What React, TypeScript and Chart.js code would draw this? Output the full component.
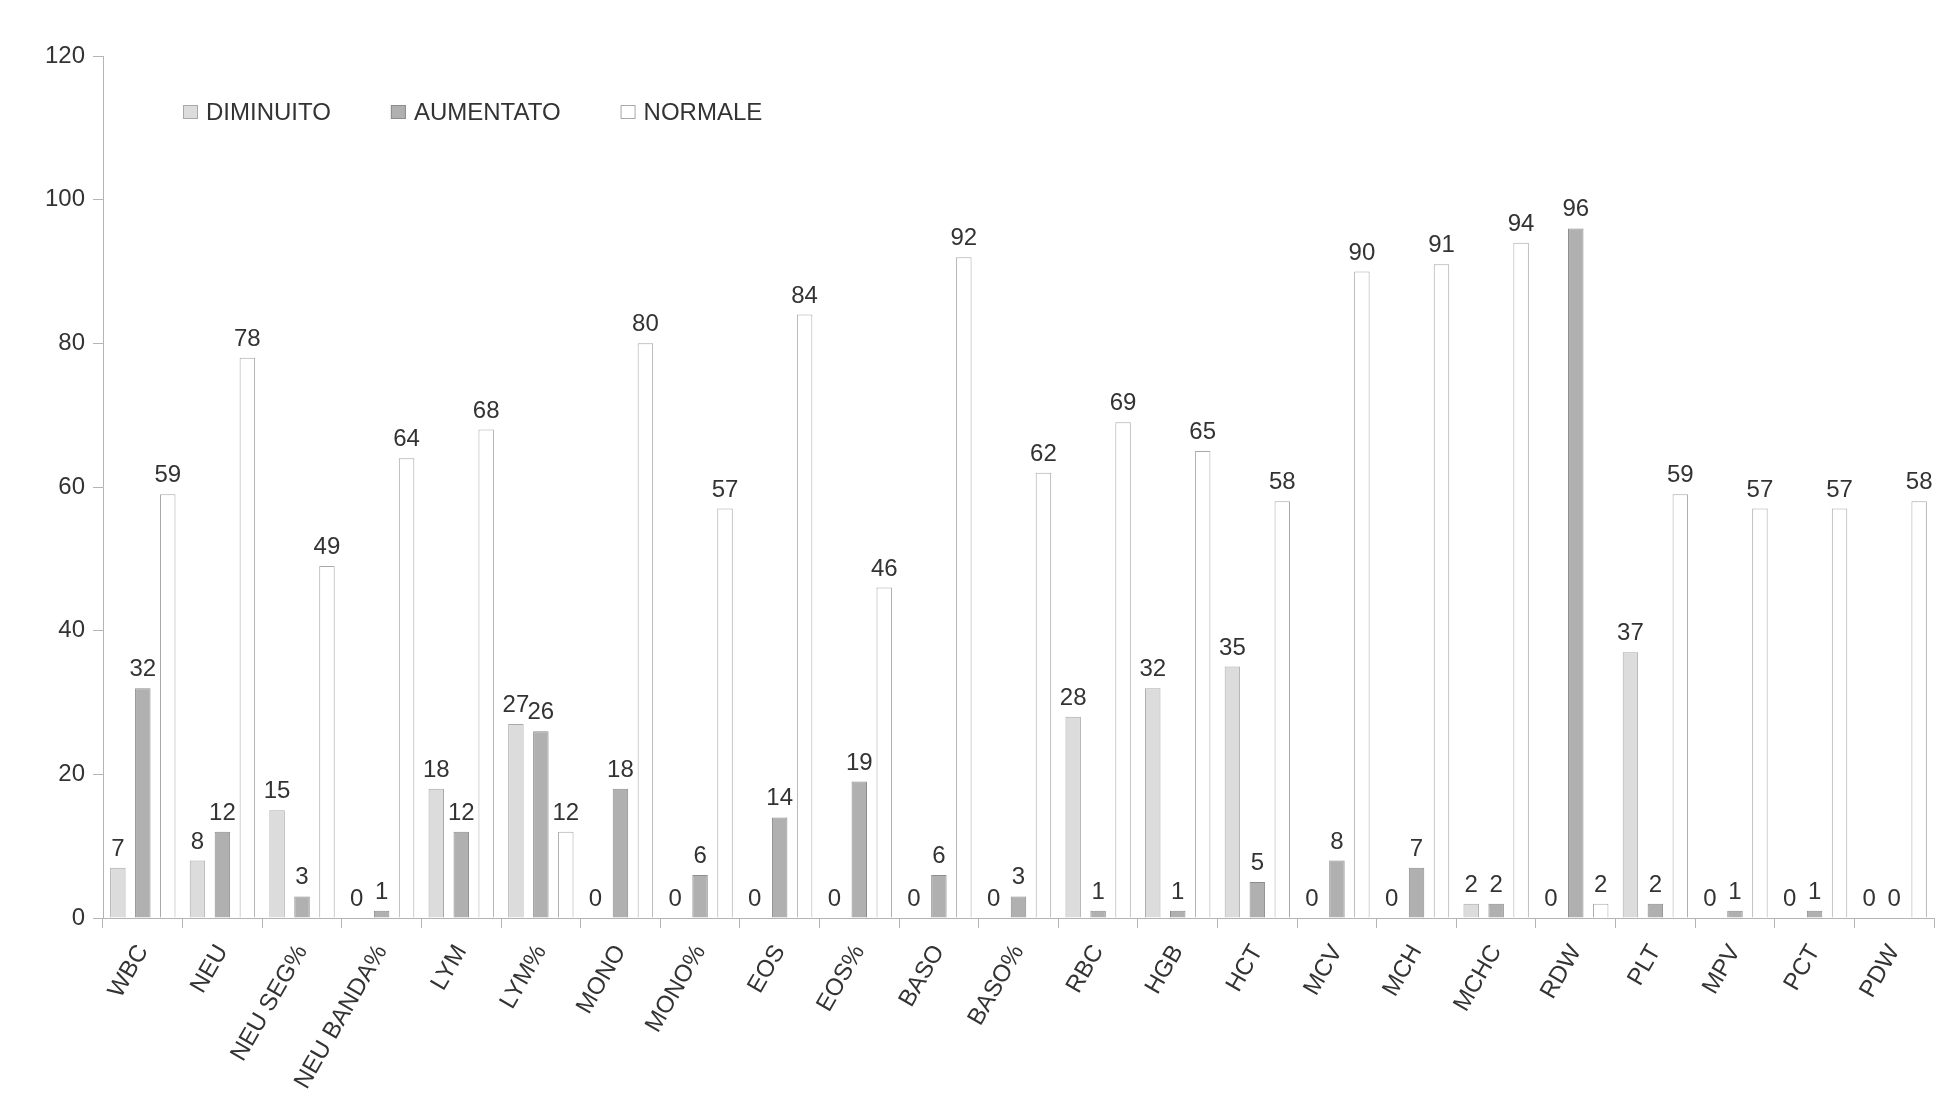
import React, { useEffect, useRef } from "react";
import { Chart, registerables } from "chart.js";

Chart.register(...registerables);

const categories = [
  "WBC", "NEU", "NEU SEG%", "NEU BANDA%", "LYM", "LYM%", "MONO", "MONO%",
  "EOS", "EOS%", "BASO", "BASO%", "RBC", "HGB", "HCT", "MCV", "MCH", "MCHC",
  "RDW", "PLT", "MPV", "PCT", "PDW",
];
const diminuito = [7, 8, 15, 0, 18, 27, 0, 0, 0, 0, 0, 0, 28, 32, 35, 0, 0, 2, 0, 37, 0, 0, 0];
const aumentato = [32, 12, 3, 1, 12, 26, 18, 6, 14, 19, 6, 3, 1, 1, 5, 8, 7, 2, 96, 2, 1, 1, 0];
const normale = [59, 78, 49, 64, 68, 12, 80, 57, 84, 46, 92, 62, 69, 65, 58, 90, 91, 94, 2, 59, 57, 57, 58];
const seriesNames = ["DIMINUITO", "AUMENTATO", "NORMALE"];
const yTicks = [0, 20, 40, 60, 80, 100, 120];

const FONT = "'Liberation Sans', Arial, Helvetica, sans-serif";
const TEXT = "#333333";
const AXIS = "#b4b4b4";

const valueLabels = {
  id: "valueLabels",
  afterDatasetsDraw(chart: any) {
    const ctx = chart.ctx;
    ctx.save();
    ctx.font = `24px ${FONT}`;
    ctx.fillStyle = TEXT;
    ctx.textAlign = "center";
    ctx.textBaseline = "alphabetic";
    chart.data.datasets.forEach((ds: any, i: number) => {
      const meta = chart.getDatasetMeta(i);
      meta.data.forEach((el: any, j: number) => {
        ctx.fillText(String(ds.data[j]), el.x, el.y - 12);
      });
    });
    ctx.restore();
  },
};

const innerLegend = {
  id: "innerLegend",
  afterDraw(chart: any) {
    const ctx = chart.ctx;
    const area = chart.chartArea;
    ctx.save();
    ctx.font = `24px ${FONT}`;
    ctx.textBaseline = "middle";
    ctx.textAlign = "left";
    let x = area.left + 80;
    const cy = 112;
    chart.data.datasets.forEach((ds: any) => {
      ctx.fillStyle = ds.backgroundColor;
      ctx.fillRect(x, cy - 7, 15, 14);
      ctx.strokeStyle = ds.borderColor;
      ctx.lineWidth = 1;
      ctx.strokeRect(x + 0.5, cy - 6.5, 14, 13);
      ctx.fillStyle = TEXT;
      ctx.fillText(ds.label, x + 23, cy + 1);
      x += 23 + ctx.measureText(ds.label).width + 60;
    });
    ctx.restore();
  },
};

export default function App() {
  const ref = useRef<HTMLCanvasElement>(null);
  useEffect(() => {
    if (!ref.current) return;
    Chart.defaults.font.family = FONT;
    const chart = new Chart(ref.current, {
      type: "bar",
      data: {
        labels: categories,
        datasets: [
          { label: seriesNames[0], data: diminuito, backgroundColor: "#dcdcdc", borderColor: "#a8a8a8", borderWidth: 1 },
          { label: seriesNames[1], data: aumentato, backgroundColor: "#b0b0b0", borderColor: "#8c8c8c", borderWidth: 1 },
          { label: seriesNames[2], data: normale, backgroundColor: "#ffffff", borderColor: "#a8a8a8", borderWidth: 1 },
        ],
      },
      options: {
        animation: false,
        responsive: false,
        devicePixelRatio: 1,
        layout: { padding: { top: 56, right: 5, left: 0, bottom: 0 } },
        datasets: { bar: { categoryPercentage: 0.94, barPercentage: 0.62 } },
        plugins: { legend: { display: false }, tooltip: { enabled: false }, title: { display: false } },
        scales: {
          x: {
            grid: { display: true, offset: true, drawOnChartArea: false, drawTicks: true, tickLength: 10, color: AXIS },
            border: { display: true, color: AXIS },
            ticks: {
              autoSkip: false, maxRotation: 60, minRotation: 60, padding: 12,
              color: TEXT, font: { size: 24, family: FONT },
            },
            afterFit: (s: any) => { s.height = 200; s.paddingLeft = 0; s.paddingRight = 0; },
          },
          y: {
            min: 0, max: 120,
            afterBuildTicks: (s: any) => { s.ticks = yTicks.map((v) => ({ value: v })); },
            grid: { display: true, drawOnChartArea: false, drawTicks: true, tickLength: 10, color: AXIS },
            border: { display: true, color: AXIS },
            ticks: { padding: 8, color: TEXT, font: { size: 24, family: FONT } },
            afterFit: (s: any) => { s.width = 103; s.paddingTop = 0; s.paddingBottom = 0; },
          },
        },
      },
      plugins: [valueLabels, innerLegend],
    });
    return () => chart.destroy();
  }, []);
  return (
    <div style={{ position: "fixed", left: 0, top: 0, width: 1939, height: 1118, background: "#fff" }}>
      <canvas ref={ref} width={1939} height={1118} style={{ display: "block", width: 1939, height: 1118 }} />
    </div>
  );
}
